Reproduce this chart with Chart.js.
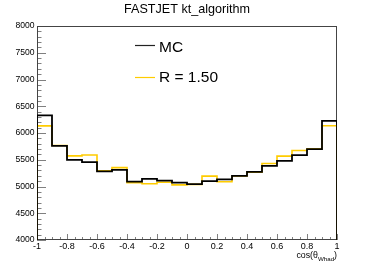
<!DOCTYPE html>
<html><head><meta charset="utf-8">
<script src="https://cdn.jsdelivr.net/npm/chart.js@4/dist/chart.umd.min.js"></script>
<style>html,body{margin:0;padding:0;background:#fff}#wrap{width:374px;height:268px}</style>
</head><body><div id="wrap"><canvas id="c" width="374" height="268"></canvas></div>
<script>
const chartTitle = "FASTJET kt_algorithm";
const binLow = [-1.0,-0.9,-0.8,-0.7,-0.6,-0.5,-0.4,-0.3,-0.2,-0.1,0.0,0.1,0.2,0.3,0.4,0.5,0.6,0.7,0.8,0.9];
const binHigh = 1.0;
const mcValues   = [6328,5760,5498,5455,5282,5311,5092,5142,5110,5073,5043,5099,5133,5200,5273,5386,5479,5586,5698,6228];
const r150Values = [6133,5765,5573,5588,5292,5352,5072,5052,5080,5030,5040,5193,5088,5195,5268,5429,5567,5673,5704,6135];
const seriesLabels = ["MC", "R = 1.50"];
const xTickValues = [-1,-0.8,-0.6,-0.4,-0.2,0,0.2,0.4,0.6,0.8,1];
const yTickValues = [4000,4500,5000,5500,6000,6500,7000,7500,8000];
const xAxisTitle = ["cos(\u03B8", "Whad", ")"];
const yMin = 4000, yMax = 8000;

const FONT = "'Liberation Sans', Arial, Helvetica, sans-serif";
const colors = ["#000000", "#ffcc00"];

function histPoints(vals){
  const pts = [{x: binLow[0], y: yMin}];
  binLow.forEach((x, i) => pts.push({x: x, y: vals[i]}));
  pts.push({x: binHigh, y: vals[vals.length - 1]});
  pts.push({x: binHigh, y: yMin});
  return pts;
}
function fmtX(v){ return String(Number(Number(v).toFixed(1))); }

const decor = {
  id: 'decor',
  beforeDatasetsDraw(chart){
    const ctx = chart.ctx, a = chart.chartArea, xs = chart.scales.x, ys = chart.scales.y;
    ctx.save();
    ctx.lineWidth = 1;
    // ticks
    ctx.strokeStyle = '#808080';
    ctx.beginPath();
    for (let v = yMin; v <= yMax + 1e-6; v += 100) {
      const y = Math.round(ys.getPixelForValue(v)) + 0.5;
      const major = yTickValues.some(t => Math.abs(t - v) < 1e-6);
      ctx.moveTo(a.left, y); ctx.lineTo(a.left + (major ? 9 : 4.5), y);
    }
    for (let k = 0; k <= 40; k++) {
      const v = -1 + k * 0.05;
      const x = Math.round(xs.getPixelForValue(v)) + 0.5;
      const major = (k % 4 === 0);
      ctx.moveTo(x, a.bottom); ctx.lineTo(x, a.bottom - (major ? 6 : 3));
    }
    ctx.stroke();
    // frame
    ctx.strokeStyle = '#444444';
    ctx.strokeRect(a.left + 0.5, a.top + 0.5, a.right - a.left - 1, a.bottom - a.top - 1);
    ctx.restore();
  },
  afterDraw(chart){
    const ctx = chart.ctx, a = chart.chartArea;
    ctx.save();
    ctx.fillStyle = '#000';
    // title
    ctx.font = "12.6px " + FONT;
    ctx.textAlign = 'center'; ctx.textBaseline = 'alphabetic';
    ctx.fillText(chartTitle, 187, 13);
    // legend
    const ly = [45.5, 77.5], lb = [51.5, 82.3];
    ctx.font = "15.5px " + FONT;
    ctx.textAlign = 'left';
    for (let i = 0; i < 2; i++) {
      ctx.strokeStyle = i === 0 ? '#222' : colors[1];
      ctx.lineWidth = 1.2;
      ctx.beginPath(); ctx.moveTo(135, ly[i]); ctx.lineTo(155, ly[i]); ctx.stroke();
      ctx.fillText(seriesLabels[i], 159, lb[i]);
    }
    // x axis title, right aligned at plot right
    const f1 = "8.8px " + FONT, f2 = "6.2px " + FONT;
    ctx.font = f1; const w1 = ctx.measureText(xAxisTitle[0]).width, w3 = ctx.measureText(xAxisTitle[2]).width;
    ctx.font = f2; const w2 = ctx.measureText(xAxisTitle[1]).width;
    let x = a.right - (w1 + w2 + w3);
    const base = 258;
    ctx.font = f1; ctx.fillText(xAxisTitle[0], x, base); x += w1;
    ctx.font = f2; ctx.fillText(xAxisTitle[1], x, base + 2.5); x += w2;
    ctx.font = f1; ctx.fillText(xAxisTitle[2], x, base);
    ctx.restore();
  }
};

new Chart(document.getElementById('c').getContext('2d'), {
  type: 'line',
  data: { datasets: [
    { label: seriesLabels[0], data: histPoints(mcValues), borderColor: colors[0], borderWidth: 1.8, stepped: true, pointRadius: 0, fill: false },
    { label: seriesLabels[1], data: histPoints(r150Values), borderColor: colors[1], borderWidth: 1.6, stepped: true, pointRadius: 0, fill: false }
  ]},
  options: {
    responsive: false, animation: false, devicePixelRatio: 1,
    layout: { padding: { left: 0, right: 37, top: 26, bottom: 0 } },
    plugins: { legend: { display: false }, title: { display: false }, tooltip: { enabled: false } },
    scales: {
      x: {
        type: 'linear', min: -1, max: 1,
        afterBuildTicks: s => { s.ticks = xTickValues.map(v => ({ value: v })); },
        afterFit: s => { s.height = 28; },
        ticks: { callback: v => fmtX(v), font: { family: FONT, size: 9 }, color: '#000', padding: 1, maxRotation: 0, autoSkip: false },
        grid: { display: false, drawTicks: false }, border: { display: false }
      },
      y: {
        type: 'linear', min: yMin, max: yMax,
        afterBuildTicks: s => { s.ticks = yTickValues.map(v => ({ value: v })); },
        afterFit: s => { s.width = 37; },
        ticks: { callback: v => String(v), font: { family: FONT, size: 8.6 }, color: '#000', padding: 2.5, autoSkip: false },
        grid: { display: false, drawTicks: false }, border: { display: false }
      }
    }
  },
  plugins: [decor]
});
</script>
</body></html>
